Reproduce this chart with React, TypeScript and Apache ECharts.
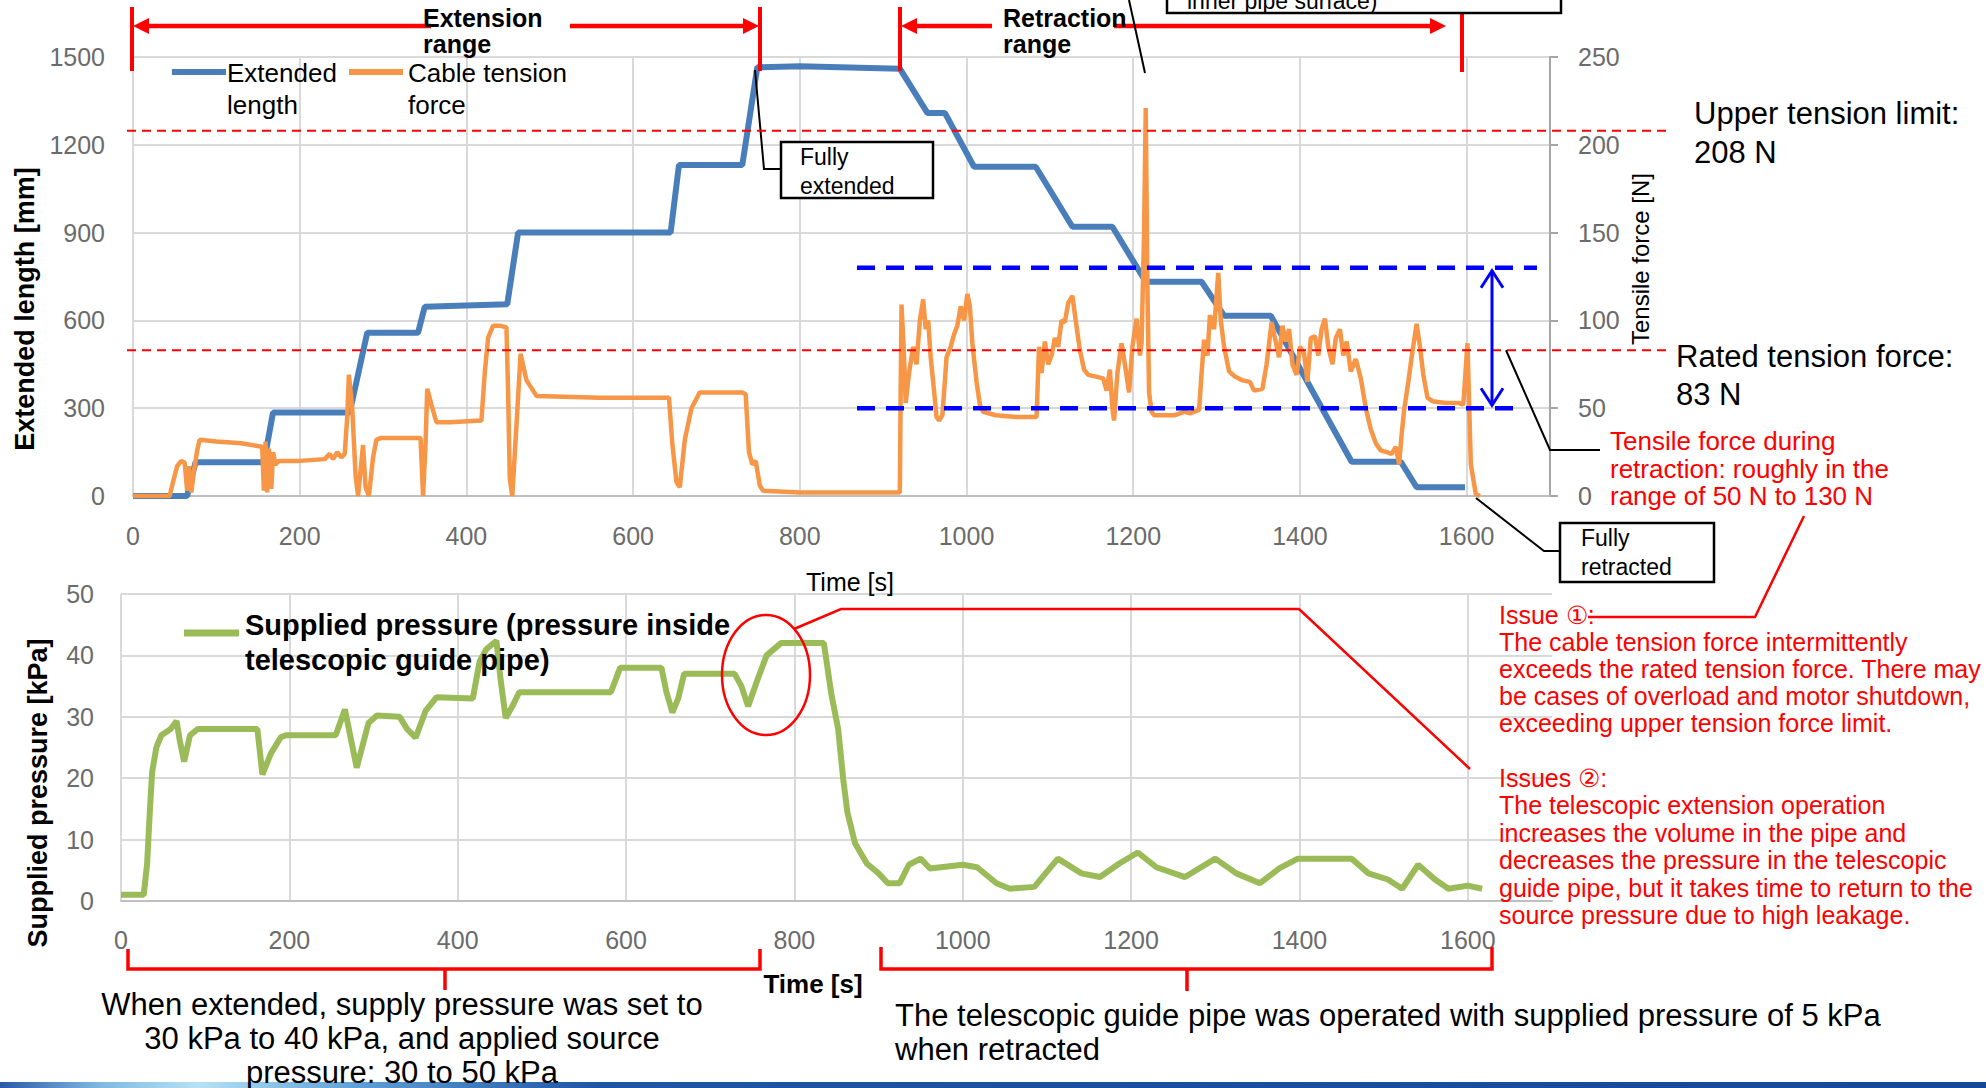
import React, { useEffect, useRef } from "react";
import * as echarts from "echarts";

const FONT = '"Liberation Sans", Arial, Helvetica, sans-serif';

// ---- axes ----
const timeMax = 1700;
const timeStep = 200;
const lastTimeLabel = 1600;
const lengthMax = 1500;
const lengthStep = 300;
const forceMax = 250;
const forceStep = 50;
const pressureMax = 50;
const pressureStep = 10;

// ---- limits / annotations (N) ----
const UPPER_TENSION_LIMIT = 208;
const RATED_TENSION = 83;
const RETRACTION_BAND_HIGH = 130;
const RETRACTION_BAND_LOW = 50;

// ---- series: extended length [mm] vs time [s] ----
const extendedLength: [number, number][] = [
  [0, 0], [65, 0], [75, 115], [157, 115], [168, 285], [260, 285], [281, 558], [342, 558],
  [350, 647], [449, 655], [462, 900], [645, 900], [655, 1131], [731, 1131], [749, 1465],
  [800, 1468], [920, 1460], [953, 1309], [974, 1309], [1009, 1125], [1083, 1125],
  [1127, 920], [1175, 920], [1215, 732], [1282, 732], [1309, 616], [1365, 616],
  [1462, 117], [1521, 117], [1540, 30], [1598, 30],
];

// ---- series: cable tension force [N], extension phase ----
const tensionExtension: [number, number][] = [
  [0, 0], [44, 0], [48, 8], [53, 17], [58, 20], [62, 19], [65, 3], [67, 17], [70, 2], [73, 14],
  [77, 26], [80, 32], [100, 31], [130, 30], [155, 28], [157, 3], [159, 31], [161, 2], [163, 27], [166, 4],
  [168, 25], [171, 18], [175, 20], [200, 20], [230, 21], [236, 24], [240, 21], [245, 25], [250, 22], [254, 24],
  [257, 45], [259, 69], [263, 50], [267, 12], [270, 0], [276, 29], [279, 5], [283, 0], [288, 22], [292, 32],
  [297, 33], [345, 33], [348, 0], [351, 30], [353, 61], [358, 52], [364, 42], [380, 42], [418, 43], [422, 70],
  [426, 90], [432, 97], [440, 97], [448, 96], [450, 60], [452, 10], [455, 0], [460, 40], [465, 81], [472, 66],
  [484, 57], [560, 56], [643, 56], [647, 30], [652, 8], [656, 5], [662, 32], [670, 50], [680, 59], [731, 59],
  [735, 58], [739, 25], [743, 18], [747, 20], [752, 6], [756, 3], [800, 2], [920, 2],
];

// ---- series: cable tension force [N], retraction phase ----
const tensionRetraction: [number, number][] = [
  [921, 60], [922, 109], [925, 80], [927, 53], [931, 70], [936, 85], [940, 75], [944, 100], [948, 112], [951, 95],
  [954, 100], [957, 79], [961, 60], [964, 45], [967, 43], [971, 46], [974, 65], [976, 79], [981, 85], [985, 92],
  [989, 97], [993, 108], [997, 100], [1001, 115], [1004, 108], [1007, 87], [1012, 65], [1016, 52], [1020, 48], [1035, 46],
  [1060, 45], [1084, 45], [1087, 85], [1090, 70], [1094, 88], [1098, 75], [1102, 80], [1106, 90], [1110, 85], [1114, 100],
  [1118, 99], [1122, 110], [1127, 114], [1131, 100], [1136, 83], [1141, 72], [1146, 69], [1164, 67], [1168, 60], [1172, 72],
  [1175, 50], [1177, 43], [1181, 70], [1186, 87], [1190, 75], [1195, 59], [1199, 85], [1204, 101], [1208, 80], [1210, 87],
  [1213, 150], [1215, 221], [1217, 120], [1219, 59], [1222, 48], [1225, 46], [1250, 46], [1262, 48], [1268, 47], [1279, 49],
  [1282, 70], [1285, 89], [1289, 80], [1292, 103], [1297, 95], [1302, 127], [1305, 100], [1309, 85], [1315, 71], [1322, 68],
  [1330, 66], [1340, 65], [1345, 60], [1355, 61], [1360, 75], [1366, 99], [1370, 90], [1375, 79], [1379, 97], [1383, 88],
  [1387, 95], [1391, 75], [1396, 69], [1400, 85], [1405, 81], [1409, 65], [1413, 90], [1418, 91], [1422, 80], [1426, 95],
  [1430, 101], [1434, 85], [1439, 75], [1443, 90], [1448, 95], [1452, 80], [1456, 88], [1461, 71], [1467, 78], [1473, 67],
  [1479, 50], [1485, 38], [1491, 30], [1497, 26], [1504, 25], [1510, 24], [1515, 28], [1519, 18], [1522, 35], [1525, 49],
  [1530, 65], [1534, 79], [1540, 98], [1544, 85], [1548, 69], [1553, 56], [1559, 54], [1575, 53], [1590, 53], [1596, 52],
  [1601, 87], [1605, 18], [1611, 1], [1616, 0],
];

// ---- series: supplied pressure [kPa] vs time [s] ----
const supplyPressure: [number, number][] = [
  [0, 1], [27, 1], [31, 6], [34, 14], [37, 21], [42, 25], [48, 27], [59, 28], [66, 29.3], [70, 26],
  [75, 22.7], [82, 27], [91, 28], [162, 28], [168, 20.6], [178, 24], [190, 26.7], [196, 27], [255, 27], [266, 31.2],
  [280, 21.7], [294, 29], [304, 30.2], [331, 30], [340, 28], [350, 26.6], [362, 31], [375, 33.2], [418, 33], [426, 39],
  [434, 41], [446, 42.4], [451, 36], [457, 29.8], [466, 32], [473, 34], [582, 34], [593, 38], [642, 38], [648, 34],
  [655, 30.7], [662, 33], [669, 37], [729, 37], [737, 35], [745, 31.7], [756, 36], [767, 40], [784, 42], [835, 42],
  [844, 33.6], [852, 28], [858, 19.8], [863, 14.4], [872, 9.4], [886, 6.1], [900, 4.5], [911, 2.9], [925, 2.9], [936, 5.9],
  [950, 6.9], [961, 5.3], [1000, 5.9], [1017, 5.5], [1040, 2.9], [1056, 2], [1085, 2.3], [1113, 6.9], [1141, 4.5], [1163, 3.9],
  [1186, 6.1], [1208, 7.9], [1230, 5.5], [1264, 3.9], [1300, 6.9], [1325, 4.5], [1353, 2.9], [1376, 5.3], [1398, 6.9], [1443, 6.9],
  [1462, 6.9], [1482, 4.5], [1505, 3.5], [1522, 2], [1541, 5.9], [1561, 3.5], [1577, 2], [1600, 2.5], [1617, 2],
];

const BLUE = "#4a7ebb";
const ORANGE = "#f79646";
const GREEN = "#9bbb59";
const RED = "#ff0000";
const GRID = "#d9d9d9";
const LABEL = "#6b6b6b";

const Z = 100;
const gLine = (x1: number, y1: number, x2: number, y2: number, stroke: string, lineWidth: number, lineDash?: number[]) => ({
  type: "line", z: Z, silent: true,
  shape: { x1, y1, x2, y2 },
  style: { stroke, lineWidth, lineDash },
});
const gPoly = (points: number[][], stroke: string, lineWidth: number) => ({
  type: "polyline", z: Z, silent: true,
  shape: { points },
  style: { stroke, lineWidth, fill: null },
});
const gTri = (points: number[][], fill: string) => ({
  type: "polygon", z: Z, silent: true,
  shape: { points },
  style: { fill },
});
const gText = (x: number, yc: number, text: string, fontSize: number, lineHeight: number, fill = "#000", fontWeight = "normal", align = "left") => ({
  type: "text", z: Z + 1, silent: true, x, y: yc - lineHeight / 2,
  style: { text, fill, fontSize, lineHeight, fontFamily: FONT, fontWeight, align, verticalAlign: "top" },
});
const gVText = (x: number, y: number, text: string, fontSize: number, fontWeight = "normal") => ({
  type: "text", z: Z + 1, silent: true, x, y, rotation: Math.PI / 2,
  style: { text, fill: "#000", fontSize, fontFamily: FONT, fontWeight, align: "center", verticalAlign: "middle" },
});
const gBox = (x: number, y: number, width: number, height: number) => ({
  type: "rect", z: Z, silent: true,
  shape: { x, y, width, height },
  style: { fill: "#ffffff", stroke: "#000", lineWidth: 2.5 },
});

const timeFormatter = (v: number) => (v <= lastTimeLabel ? String(v) : "");

function buildOption() {
  const labelStyle = { color: LABEL, fontSize: 25, fontFamily: FONT };
  return {
    animation: false,
    backgroundColor: "#ffffff",
    grid: [
      { left: 133, top: 57, width: 1417, height: 439 },
      { left: 121, top: 594, width: 1431, height: 307 },
    ],
    xAxis: [
      {
        gridIndex: 0, type: "value", min: 0, max: timeMax, interval: timeStep,
        axisLine: { show: true, lineStyle: { color: "#bfbfbf", width: 2 } },
        axisTick: { show: false },
        axisLabel: { ...labelStyle, margin: 27, formatter: timeFormatter },
        splitLine: { show: true, lineStyle: { color: GRID, width: 2 } },
      },
      {
        gridIndex: 1, type: "value", min: 0, max: timeMax, interval: timeStep,
        axisLine: { show: true, lineStyle: { color: "#bfbfbf", width: 2 } },
        axisTick: { show: false },
        axisLabel: { ...labelStyle, margin: 26, formatter: timeFormatter },
        splitLine: { show: true, showMaxLine: false, lineStyle: { color: GRID, width: 2 } },
      },
    ],
    yAxis: [
      {
        gridIndex: 0, type: "value", min: 0, max: lengthMax, interval: lengthStep,
        axisLine: { show: false }, axisTick: { show: false },
        axisLabel: { ...labelStyle, margin: 28, formatter: (v: number) => String(v) },
        splitLine: { show: true, lineStyle: { color: GRID, width: 2 } },
      },
      {
        gridIndex: 0, type: "value", position: "right", min: 0, max: forceMax, interval: forceStep,
        axisLine: { show: true, lineStyle: { color: "#a6a6a6", width: 2 } },
        axisTick: { show: true, length: 8, lineStyle: { color: "#a6a6a6", width: 2 } },
        axisLabel: { ...labelStyle, margin: 28, formatter: (v: number) => String(v) },
        splitLine: { show: false },
      },
      {
        gridIndex: 1, type: "value", min: 0, max: pressureMax, interval: pressureStep,
        axisLine: { show: false }, axisTick: { show: false },
        axisLabel: { ...labelStyle, margin: 27, formatter: (v: number) => String(v) },
        splitLine: { show: true, lineStyle: { color: GRID, width: 2 } },
      },
    ],
    series: [
      {
        name: "Extended length", type: "line", xAxisIndex: 0, yAxisIndex: 0, data: extendedLength,
        showSymbol: false, silent: true, z: 2, lineStyle: { color: BLUE, width: 6 },
      },
      {
        name: "Cable tension force", type: "line", xAxisIndex: 0, yAxisIndex: 1,
        data: [...tensionExtension, ...tensionRetraction],
        showSymbol: false, silent: true, z: 3, lineStyle: { color: ORANGE, width: 4.5 },
      },
      {
        name: "Supplied pressure", type: "line", xAxisIndex: 1, yAxisIndex: 2, data: supplyPressure,
        showSymbol: false, silent: true, z: 2, lineStyle: { color: GREEN, width: 6 },
      },
    ],
  };
}

function buildGraphics(chart: any) {
  const py = (v: number) => chart.convertToPixel({ yAxisIndex: 1 }, v) as number;
  const yUpper = py(UPPER_TENSION_LIMIT);
  const yRated = py(RATED_TENSION);
  const yHigh = py(RETRACTION_BAND_HIGH);
  const yLow = py(RETRACTION_BAND_LOW);

  const els: any[] = [
    // bottom gradient bar
    {
      type: "rect", z: Z - 1, silent: true,
      shape: { x: 0, y: 1082, width: 1986, height: 6 },
      style: {
        fill: new echarts.graphic.LinearGradient(0, 0, 1, 0, [
          { offset: 0, color: "#2a5aa8" },
          { offset: 0.05, color: "#7fb8e0" },
          { offset: 0.1, color: "#b5e2f5" },
          { offset: 0.18, color: "#5d9fd6" },
          { offset: 0.3, color: "#1f55a5" },
          { offset: 1, color: "#15479b" },
        ]),
      },
    },

    // extension range arrow
    gLine(132, 7, 132, 71, RED, 4),
    gLine(760, 7, 760, 71, RED, 4),
    gLine(146, 26, 431, 26, RED, 4.5),
    gTri([[133, 26], [149, 18], [149, 34]], RED),
    gLine(570, 26, 746, 26, RED, 4.5),
    gTri([[759, 26], [743, 18], [743, 34]], RED),
    gText(423, 18, "Extension\nrange", 25, 25.5, "#000", "bold"),

    // retraction range arrow
    gLine(900, 7, 900, 71, RED, 4),
    gLine(914, 26, 992, 26, RED, 4.5),
    gTri([[901, 26], [917, 18], [917, 34]], RED),
    gText(1003, 18, "Retraction\nrange", 25, 25.5, "#000", "bold"),
    gLine(1114, 26, 1432, 26, RED, 4.5),
    gTri([[1446, 26], [1430, 18], [1430, 34]], RED),
    gLine(1462, 8, 1462, 72, RED, 4),

    // top callout box (cut at top, as in the slide)
    gLine(1129, 0, 1145, 73, "#000", 2),
    gBox(1167, -30, 394, 43),
    gText(1187, 1, "inner pipe surface)", 23, 26),

    // fully extended
    gPoly([[755, 70], [764, 169], [781, 169]], "#000", 2),
    gBox(781, 142, 152, 56),
    gText(800, 157, "Fully\nextended", 23, 29),

    // tension limit lines
    gLine(127, yUpper, 1669, yUpper, RED, 2, [9, 6]),
    gLine(127, yRated, 1669, yRated, RED, 2, [9, 6]),
    gText(1694, 113, "Upper tension limit:\n208 N", 31, 39),
    gText(1676, 356, "Rated tension force:\n83 N", 31, 38),

    // retraction band
    gLine(857, yHigh, 1537, yHigh, "#0000ff", 4.5, [18, 11]),
    gLine(857, yLow, 1513, yLow, "#0000ff", 4.5, [18, 11]),
    gLine(1492, yHigh + 3, 1492, yLow - 3, "#0000ff", 3),
    gPoly([[1481, yHigh + 20], [1492, yHigh + 3], [1503, yHigh + 20]], "#0000ff", 3),
    gPoly([[1481, yLow - 20], [1492, yLow - 3], [1503, yLow - 20]], "#0000ff", 3),

    // tensile force callout
    gPoly([[1506, yRated], [1550, 450], [1600, 450]], "#000", 2),
    gText(1610, 441, "Tensile force during\nretraction: roughly in the\nrange of 50 N to 130 N", 26, 27.5, RED),

    // fully retracted
    gPoly([[1476, 498], [1544, 551], [1560, 551]], "#000", 2),
    gBox(1560, 523, 154, 59),
    gText(1581, 538, "Fully\nretracted", 23, 29),

    // axis titles
    gVText(25, 309, "Extended length [mm]", 27, "bold"),
    gVText(1640, 259, "Tensile force [N]", 24),
    gVText(38, 793, "Supplied pressure [kPa]", 27, "bold"),
    gText(850, 582, "Time [s]", 25, 30, "#000", "normal", "center"),
    gText(813, 984, "Time [s]", 26, 30, "#000", "bold", "center"),

    // legends
    gLine(172, 72, 226, 72, BLUE, 6),
    gText(227, 73, "Extended\nlength", 26, 32),
    gLine(349, 72, 403, 72, ORANGE, 6),
    gText(408, 73, "Cable tension\nforce", 26, 32),
    gLine(184, 633, 239, 633, GREEN, 7),
    gText(245, 625, "Supplied pressure (pressure inside\ntelescopic guide pipe)", 29, 35, "#000", "bold"),

    // issue 2 ellipse + callout
    {
      type: "ellipse", z: Z, silent: true,
      shape: { cx: 766, cy: 675, rx: 44, ry: 60 },
      style: { stroke: RED, lineWidth: 2.5, fill: "none" },
    },
    gPoly([[794, 629], [841, 609], [1299, 609], [1470, 769]], RED, 2.5),

    // issue 1 callout
    gPoly([[1804, 516], [1755, 617], [1588, 617]], RED, 2.5),

    // issue texts
    gText(1499, 615, "Issue ①:\nThe cable tension force intermittently\nexceeds the rated tension force. There may\nbe cases of overload and motor shutdown,\nexceeding upper tension force limit.", 25, 27, RED),
    gText(1499, 778, "Issues ②:\nThe telescopic extension operation\nincreases the volume in the pipe and\ndecreases the pressure in the telescopic\nguide pipe, but it takes time to return to the\nsource pressure due to high leakage.", 25, 27.4, RED),

    // bottom braces
    gPoly([[128, 949], [128, 969], [760, 969], [760, 949]], RED, 3.5),
    gLine(445, 969, 445, 990, RED, 3.5),
    gPoly([[881, 947], [881, 969], [1492, 969], [1492, 947]], RED, 3.5),
    gLine(1187, 969, 1187, 991, RED, 3.5),

    // bottom notes
    gText(402, 1004, "When extended, supply pressure was set to\n30 kPa to 40 kPa, and applied source\npressure: 30 to 50 kPa", 31, 34, "#000", "normal", "center"),
    gText(895, 1015, "The telescopic guide pipe was operated with supplied pressure of 5 kPa\nwhen retracted", 31, 34),
  ];
  return els;
}

export default function App() {
  const ref = useRef<HTMLDivElement>(null);
  useEffect(() => {
    if (!ref.current) return;
    const chart = echarts.init(ref.current, null, { renderer: "svg" });
    chart.setOption(buildOption() as any);
    chart.setOption({ graphic: buildGraphics(chart) } as any);
    return () => chart.dispose();
  }, []);
  return (
    <div
      ref={ref}
      style={{ position: "fixed", left: 0, top: 0, width: 1986, height: 1088, background: "#fff" }}
    />
  );
}
